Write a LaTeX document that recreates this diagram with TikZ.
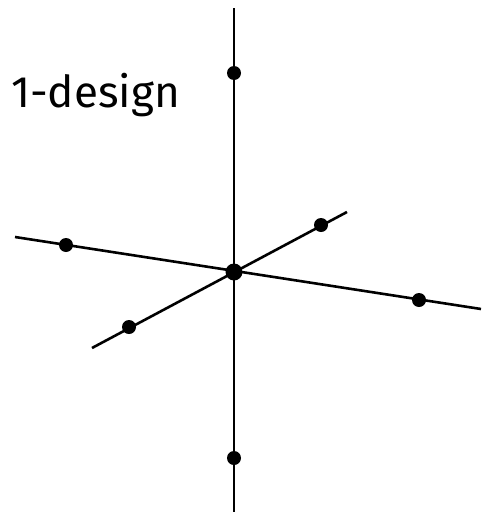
\documentclass[tikz,border=0pt]{standalone}
\usepackage{fontspec}
\setmainfont{Fira Sans}
\begin{document}
\begin{tikzpicture}[x=1pt,y=-1pt,
  axis/.style={line width=2.6pt,black},
  pt/.style={circle,fill=black,inner sep=0pt,minimum size=14pt},
  ctr/.style={circle,fill=black,inner sep=0pt,minimum size=17pt}]
\useasboundingbox (0,0) rectangle (483,517);
\coordinate (vt) at (234,8);
\coordinate (vb) at (234,512);
\coordinate (hl) at (15,237);
\coordinate (hr) at (481,309);
\coordinate (dl) at (92,348);
\coordinate (dr) at (347,212);
\draw[axis] (vt) -- (vb);
\draw[axis] (hl) -- (hr);
\draw[axis] (dl) -- (dr);
\node[ctr] (c) at (234,272) {};
\node[pt] (p1) at (234,73) {};
\node[pt] (p2) at (234,458) {};
\node[pt] (p3) at (66,245) {};
\node[pt] (p4) at (419,300) {};
\node[pt] (p5) at (129,327) {};
\node[pt] (p6) at (321,225) {};
\node[anchor=base west,inner sep=0pt,font=\fontsize{44}{44}\selectfont] (t) at (11,107) {1-design};
\end{tikzpicture}
\end{document}
